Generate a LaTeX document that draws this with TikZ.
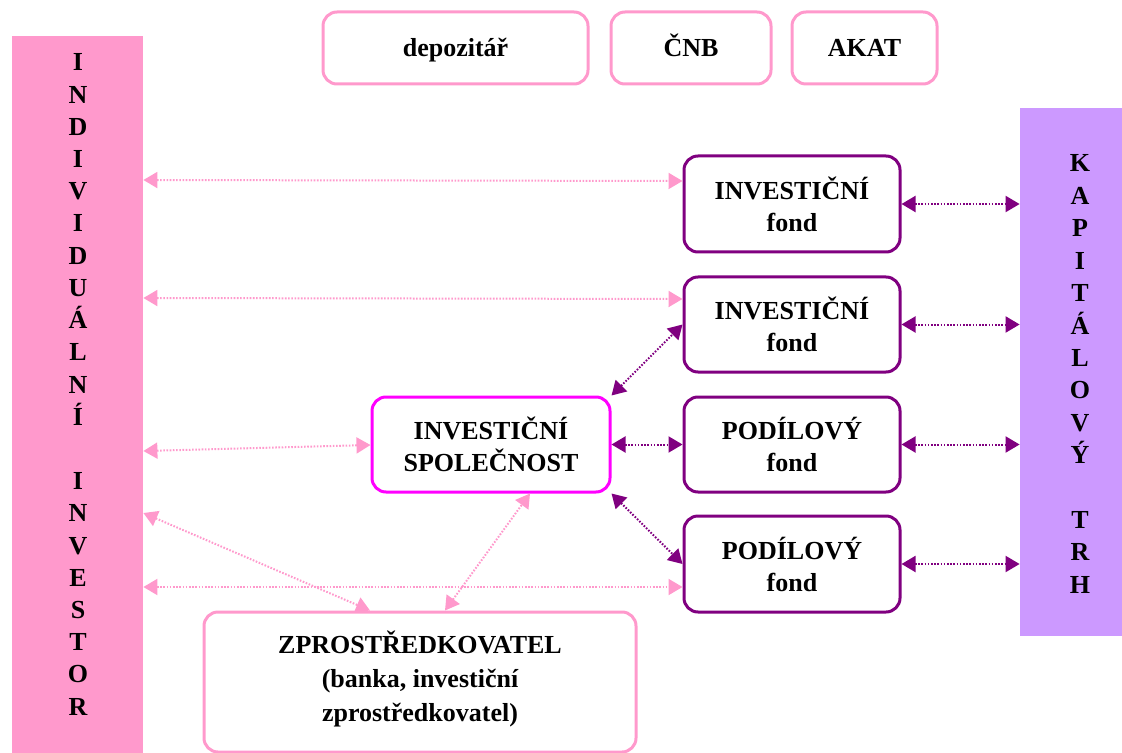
\documentclass[tikz,border=0pt]{standalone}
\usepackage{fontspec}
\setmainfont{Liberation Serif}
\usetikzlibrary{arrows.meta}
\definecolor{pk}{HTML}{FF99CC}
\definecolor{vi}{HTML}{800080}
\definecolor{mg}{HTML}{FF00FF}
\definecolor{lv}{HTML}{CC99FF}
\begin{document}
\begin{tikzpicture}[x=0.5pt,y=-0.5pt,
  font=\bfseries\fontsize{13}{16}\selectfont,
  box/.style={draw, line width=1.5pt, rounded corners=7pt, inner sep=0pt, align=center},
  topbox/.style={box, pk, text=black, minimum height=36pt, text height=9pt, text depth=0pt},
  tip/.tip={Triangle[length=7pt,width=8pt]},
  parr/.style={pk, line width=1pt, dash pattern=on 0.8pt off 0.8pt, tip-tip},
  varr/.style={vi, line width=1pt, dash pattern=on 0.8pt off 0.8pt, tip-tip},
  letter/.style={anchor=base, inner sep=0pt}]
\useasboundingbox (0,0) rectangle (1122,753);
% side bars
\node[fill=pk, inner sep=0pt, minimum width=65.5pt, minimum height=358.5pt] (ind) at (77.5,394.5) {};
\node[fill=lv, inner sep=0pt, minimum width=51pt, minimum height=264pt] (kt) at (1071,372) {};
\foreach \c [count=\i from 0] in {I,N,D,I,V,I,D,U,Á,L,N,Í,{},I,N,V,E,S,T,O,R}
  \node[letter] (l\i) at (78,71+32.2*\i) {\c};
\foreach \c [count=\i from 0] in {K,A,P,I,T,Á,L,O,V,Ý,{},T,R,H}
  \node[letter] (r\i) at (1080,172+32.4*\i) {\c};
% top boxes
\node[topbox, minimum width=132.5pt] (dep) at (455.5,48) {depozitář};
\node[topbox, minimum width=80pt] (cnb) at (691,48) {ČNB};
\node[topbox, minimum width=72.5pt] (akat) at (864.5,48) {AKAT};
% funds
\node[box, vi, text=black, minimum width=108pt, minimum height=48pt] (f1) at (792,204) {INVESTIČNÍ\\fond};
\node[box, vi, text=black, minimum width=108pt, minimum height=47.5pt] (f2) at (792,324.5) {INVESTIČNÍ\\fond};
\node[box, vi, text=black, minimum width=108pt, minimum height=47.5pt] (p1) at (792,444.5) {PODÍLOVÝ\\fond};
\node[box, vi, text=black, minimum width=108pt, minimum height=48pt] (p2) at (792,564) {PODÍLOVÝ\\fond};
% company
\node[box, mg, text=black, minimum width=119pt, minimum height=47.5pt] (is) at (491,444.5) {INVESTIČNÍ\\SPOLEČNOST};
% intermediary
\node[box, pk, text=black, minimum width=216pt, minimum height=70pt] (zp) at (420,682) {};
\node[align=center, inner sep=0pt, font=\bfseries\fontsize{13}{17}\selectfont] (zpt) at (420,679) {ZPROSTŘEDKOVATEL\\(banka, investiční\\zprostředkovatel)};
% pink arrows
\draw[parr] (ind.east |- 0,180) -- (f1.west |- 0,181);
\draw[parr] (ind.east |- 0,298) -- (f2.west |- 0,299);
\draw[parr] (ind.east |- 0,451) -- (is.west |- 0,445);
\draw[parr] (ind.east |- 0,513) -- (zp.north -| 370,0);
\draw[parr] (ind.east |- 0,587) -- (p2.west |- 0,587);
\draw[parr] (zp.north -| 445,0) -- (is.south -| 530,0);
% purple arrows
\draw[varr] (f1.east) -- (kt.west |- f1.east);
\draw[varr] (f2.east) -- (kt.west |- f2.east);
\draw[varr] (p1.east) -- (kt.west |- p1.east);
\draw[varr] (p2.east) -- (kt.west |- p2.east);
\draw[varr] (is.north east) -- (f2.west);
\draw[varr] (is.east) -- (p1.west);
\draw[varr] (is.south east) -- (p2.west);
\end{tikzpicture}
\end{document}
